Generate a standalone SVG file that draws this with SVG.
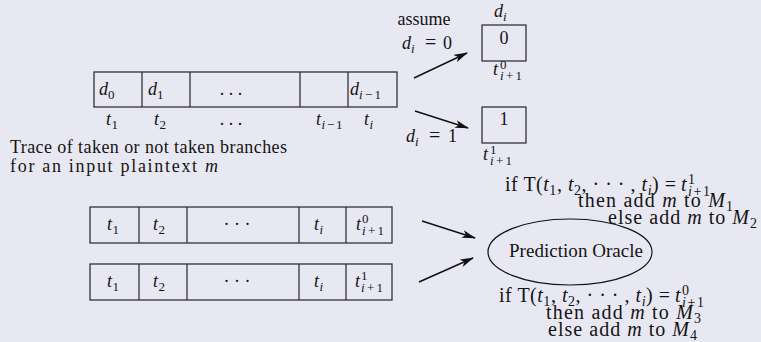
<svg xmlns="http://www.w3.org/2000/svg" width="761" height="342" viewBox="0 0 761 342">
<defs>
<style>
text { font-family: "Liberation Serif", "Times New Roman", serif; fill: #141414; font-size: 18px; }
.s { font-size: 13px; }
.c { font-size: 20px; }
.cs { font-size: 14px; }
.it { font-style: italic; }
.box { fill: none; stroke: #333; stroke-width: 1.3; }
.div { stroke: #333; stroke-width: 1.3; }
.arr { stroke: #111; stroke-width: 1.4; fill: none; marker-end: url(#ah); }
.mid { text-anchor: middle; }
</style>
<marker id="ah" viewBox="0 0 14 8" refX="13" refY="4" markerWidth="14" markerHeight="8" markerUnits="userSpaceOnUse" orient="auto">
<path d="M0,0 L14,4 L0,8 L3.5,4 z" fill="#111"/>
</marker>
</defs>
<rect x="0" y="0" width="761" height="342" fill="#e8e8f2"/>

<g id="trace-row">
<rect class="box" x="94" y="72" width="303" height="35"/>
<line class="div" x1="142" y1="72" x2="142" y2="107"/>
<line class="div" x1="190" y1="72" x2="190" y2="107"/>
<line class="div" x1="300" y1="72" x2="300" y2="107"/>
<line class="div" x1="348" y1="72" x2="348" y2="107"/>
<text class="it" x="99" y="95">d</text><text class="s" x="108" y="99">0</text>
<text class="it" x="148" y="95">d</text><text class="s" x="157" y="99">1</text>
<text class="mid" x="231" y="95">. . .</text>
<text class="it" x="350" y="95">d</text><text class="s" x="359" y="99" textLength="22"><tspan class="it">i</tspan>−1</text>
<text class="it" x="106" y="125">t</text><text class="s" x="111.5" y="129">1</text>
<text class="it" x="154" y="125">t</text><text class="s" x="159.5" y="129">2</text>
<text class="mid" x="231" y="125">. . .</text>
<text class="it" x="316" y="125">t</text><text class="s" x="321.5" y="129" textLength="21"><tspan class="it">i</tspan>−1</text>
<text class="it" x="364" y="125">t</text><text class="s it" x="369.5" y="129">i</text>
</g>

<g id="caption">
<text x="10" y="153" textLength="277">Trace of taken or not taken branches</text>
<text x="10" y="172" textLength="208">for an input plaintext <tspan class="it">m</tspan></text>
</g>

<g id="branch-0">
<text class="mid" x="424" y="25">assume</text>
<text class="it" x="402" y="49">d</text><text class="s it" x="411" y="53">i</text>
<text x="425" y="49" style="font-size:20px">=</text><text x="443" y="49">0</text>
<text class="it" x="494" y="17">d</text><text class="s it" x="503" y="21">i</text>
<rect class="box" x="482" y="25" width="44" height="36"/>
<text class="mid" x="504" y="43.5">0</text>
<text class="it" x="493" y="75">t</text><text class="s" x="500" y="69">0</text>
<text class="s" x="500" y="80" textLength="22"><tspan class="it">i</tspan>+1</text>
</g>

<g id="branch-1">
<text class="it" x="406" y="142">d</text><text class="s it" x="415" y="146">i</text>
<text x="429" y="142" style="font-size:20px">=</text><text x="448" y="142">1</text>
<rect class="box" x="482" y="107" width="44" height="36"/>
<text class="mid" x="504" y="125">1</text>
<text class="it" x="483" y="160">t</text><text class="s" x="490" y="154">1</text>
<text class="s" x="490" y="165" textLength="22"><tspan class="it">i</tspan>+1</text>
</g>

<g id="row-0">
<rect class="box" x="90" y="207" width="302" height="36"/>
<line class="div" x1="139" y1="207" x2="139" y2="243"/>
<line class="div" x1="187" y1="207" x2="187" y2="243"/>
<line class="div" x1="299" y1="207" x2="299" y2="243"/>
<line class="div" x1="346" y1="207" x2="346" y2="243"/>
<text class="it" x="107" y="230">t</text><text class="s" x="112.5" y="234">1</text>
<text class="it" x="153" y="230">t</text><text class="s" x="158.5" y="234">2</text>
<text class="mid" x="237" y="230">· · ·</text>
<text class="it" x="314" y="230">t</text><text class="s it" x="319.5" y="234">i</text>
<text class="it" x="356" y="230">t</text><text class="s" x="362" y="223">0</text>
<text class="s" x="362" y="235" textLength="22"><tspan class="it">i</tspan>+1</text>
</g>

<g id="row-1">
<rect class="box" x="90" y="264" width="302" height="36"/>
<line class="div" x1="139" y1="264" x2="139" y2="300"/>
<line class="div" x1="187" y1="264" x2="187" y2="300"/>
<line class="div" x1="299" y1="264" x2="299" y2="300"/>
<line class="div" x1="346" y1="264" x2="346" y2="300"/>
<text class="it" x="107" y="287">t</text><text class="s" x="112.5" y="291">1</text>
<text class="it" x="153" y="287">t</text><text class="s" x="158.5" y="291">2</text>
<text class="mid" x="237" y="287">· · ·</text>
<text class="it" x="314" y="287">t</text><text class="s it" x="319.5" y="291">i</text>
<text class="it" x="355" y="287">t</text><text class="s" x="361" y="280">1</text>
<text class="s" x="361" y="292" textLength="22"><tspan class="it">i</tspan>+1</text>
</g>

<g id="oracle">
<ellipse cx="570" cy="252" rx="82" ry="33" fill="none" stroke="#111" stroke-width="1.2"/>
<text x="509" y="257" style="font-size:19px" textLength="134">Prediction Oracle</text>
</g>

<g id="rule-1">
<text class="c" x="505" y="191" textLength="171">if T(<tspan class="it">t</tspan><tspan class="cs" dy="4">1</tspan><tspan dy="-4">, </tspan><tspan class="it">t</tspan><tspan class="cs" dy="4">2</tspan><tspan dy="-4">, · · · , </tspan><tspan class="it">t</tspan><tspan class="cs it" dy="4">i</tspan><tspan dy="-4">) =</tspan></text>
<text class="c it" x="681" y="191">t</text><text class="cs" x="688" y="184">1</text>
<text class="cs" x="688" y="196" textLength="22"><tspan class="it">i</tspan>+1</text>
<text class="c" x="578" y="207" textLength="155">then add <tspan class="it">m</tspan> to <tspan class="it">M</tspan><tspan class="cs" dy="4">1</tspan></text>
<text class="c" x="608" y="224" textLength="149">else add <tspan class="it">m</tspan> to <tspan class="it">M</tspan><tspan class="cs" dy="4">2</tspan></text>
</g>

<g id="rule-0">
<text class="c" x="499" y="302" textLength="171">if T(<tspan class="it">t</tspan><tspan class="cs" dy="4">1</tspan><tspan dy="-4">, </tspan><tspan class="it">t</tspan><tspan class="cs" dy="4">2</tspan><tspan dy="-4">, · · · , </tspan><tspan class="it">t</tspan><tspan class="cs it" dy="4">i</tspan><tspan dy="-4">) =</tspan></text>
<text class="c it" x="675" y="302">t</text><text class="cs" x="682" y="295">0</text>
<text class="cs" x="682" y="307" textLength="22"><tspan class="it">i</tspan>+1</text>
<text class="c" x="546" y="319" textLength="155">then add <tspan class="it">m</tspan> to <tspan class="it">M</tspan><tspan class="cs" dy="4">3</tspan></text>
<text class="c" x="548" y="336" textLength="149">else add <tspan class="it">m</tspan> to <tspan class="it">M</tspan><tspan class="cs" dy="4">4</tspan></text>
</g>

<g id="connectors">
<line class="arr" x1="414" y1="78" x2="467" y2="53"/>
<line class="arr" x1="415" y1="111" x2="468" y2="128"/>
<line class="arr" x1="422" y1="221" x2="475" y2="238"/>
<line class="arr" x1="419" y1="282" x2="473" y2="258"/>
</g>
</svg>
